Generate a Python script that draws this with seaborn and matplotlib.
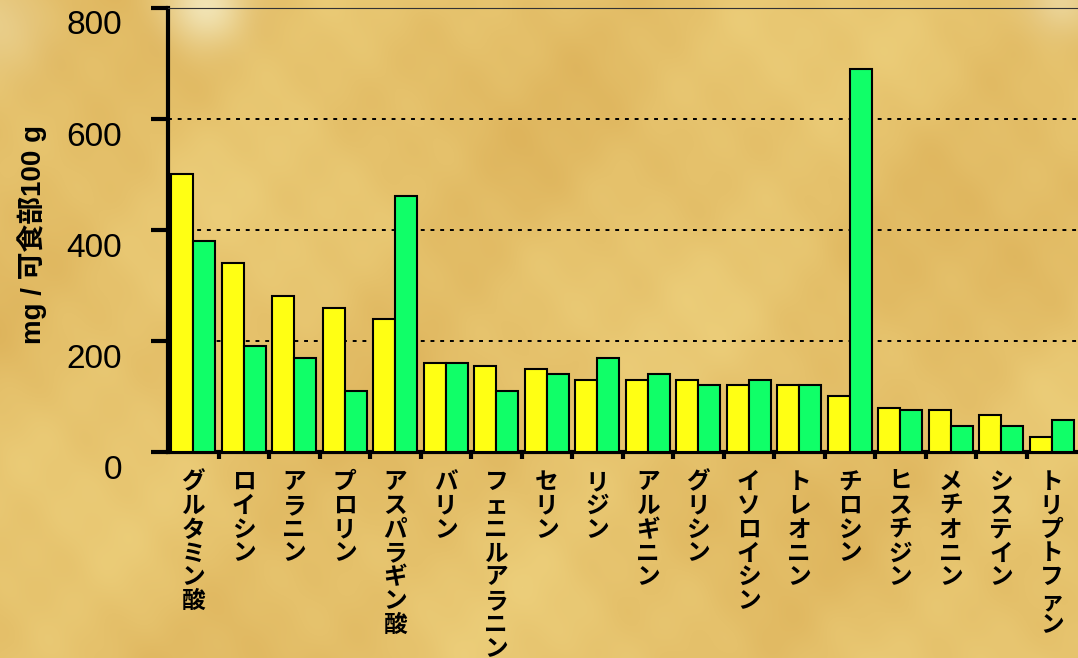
import numpy as np
import pandas as pd
import matplotlib
matplotlib.use("Agg")
import matplotlib.pyplot as plt
import matplotlib.transforms as mtransforms
import seaborn as sns

# Amino acid content (mg per 100 g edible portion)
amino_acids = ["グルタミン酸", "ロイシン", "アラニン", "プロリン", "アスパラギン酸", "バリン",
               "フェニルアラニン", "セリン", "リジン", "アルギニン", "グリシン", "イソロイシン",
               "トレオニン", "チロシン", "ヒスチジン", "メチオニン", "システイン", "トリプトファン"]
series_names = ["系列1", "系列2"]
series_1 = [500, 340, 280, 260, 240, 160, 155, 150, 130, 130, 130, 120, 120, 100, 80, 75, 67, 27]
series_2 = [380, 190, 170, 110, 460, 160, 110, 140, 170, 140, 120, 130, 120, 690, 76, 47, 47, 58]
y_ticks = [0, 200, 400, 600, 800]
y_label = "mg / 可食部100 g"
bar_colors = ["#FFFF14", "#10FF68"]

df = pd.DataFrame({
    "acid": amino_acids * 2,
    "series": [series_names[0]] * len(amino_acids) + [series_names[1]] * len(amino_acids),
    "value": series_1 + series_2,
})

W, H = 1078, 658
fig = plt.figure(figsize=(W / 100, H / 100), dpi=100)

# parchment-like backdrop
yy, xx = np.mgrid[0:H, 0:W] / 100.0
f = (np.sin(xx * 1.3 + yy * 0.7) + 0.6 * np.sin(xx * 0.5 - yy * 1.9 + 1.2)
     + 0.4 * np.sin(xx * 3.1 + yy * 2.3 + 0.4) + 0.3 * np.sin(xx * 4.7 - yy * 3.9 + 2.0)
     + 0.2 * np.sin(xx * 7.3 + yy * 6.1) + 0.15 * np.sin(xx * 11.0 - yy * 9.0 + 0.7))
f = (f - f.min()) / (f.max() - f.min())
light = np.array([236, 206, 122]) / 255
dark = np.array([222, 180, 92]) / 255
img = light[None, None, :] * (1 - f[..., None]) + dark[None, None, :] * f[..., None]
pale = np.array([246, 240, 205]) / 255
for cx, cy, r, a in [(205, 5, 28, 0.75), (0, 25, 35, 0.35), (1060, 0, 25, 0.5)]:
    g = a * np.exp(-(((xx * 100 - cx) ** 2 + (yy * 100 - cy) ** 2) / (2 * r ** 2)))
    img = img * (1 - g[..., None]) + pale[None, None, :] * g[..., None]
bg = fig.add_axes([0, 0, 1, 1])
bg.imshow(img, aspect="auto", interpolation="bilinear")
bg.axis("off")

ax_left, ax_right, ax_top, ax_bottom = 168, 1077, 7.5, 452
ax = fig.add_axes([ax_left / W, (H - ax_bottom) / H, (ax_right - ax_left) / W, (ax_bottom - ax_top) / H])
ax.patch.set_alpha(0)

sns.barplot(data=df, x="acid", y="value", hue="series", order=amino_acids,
            hue_order=series_names, palette=bar_colors, saturation=1, width=0.88,
            edgecolor="black", linewidth=1.5, legend=False, ax=ax, zorder=3)

ax.set_xlim(-0.5, len(amino_acids) - 0.5)
ax.set_ylim(0, 800)
ax.set_xlabel("")
ax.set_ylabel(y_label, fontsize=20, fontweight="bold",
              family=["Liberation Sans", "Noto Sans CJK JP"])
ax.yaxis.set_label_coords((32 - ax_left) / (ax_right - ax_left), (ax_bottom - 234) / (ax_bottom - ax_top))
ax.yaxis.label.set_va("center")

# grid
ax.set_yticks(y_ticks)
ax.yaxis.grid(True, color="black", linestyle=(0, (2, 3)), linewidth=1.4, zorder=1)
ax.set_axisbelow(True)

ax.spines["right"].set_visible(False)
ax.spines["top"].set_linewidth(0.8)
ax.spines["top"].set_color("#333333")
ax.spines["left"].set_linewidth(3)
ax.spines["bottom"].set_linewidth(3)

ax.tick_params(axis="y", length=12, width=3, direction="out", pad=21,
               labelsize=24)
for lbl in ax.get_yticklabels():
    lbl.set_family("Liberation Sans")
    lbl.set_transform(lbl.get_transform() +
                      mtransforms.ScaledTranslation(0, -0.15, fig.dpi_scale_trans))

ax.set_xticks(range(len(amino_acids)))
ax.set_xticklabels(["\n".join(name) for name in amino_acids], fontsize=17,
                   fontweight="bold", family="Noto Sans CJK JP", linespacing=0.99,
                   va="top")
ax.set_xticks(np.arange(0.5, len(amino_acids) - 0.5, 1), minor=True)
ax.tick_params(axis="x", which="major", length=0, pad=13)
ax.tick_params(axis="x", which="minor", length=5, width=3, direction="out")

fig.savefig("out.png", dpi=100)
